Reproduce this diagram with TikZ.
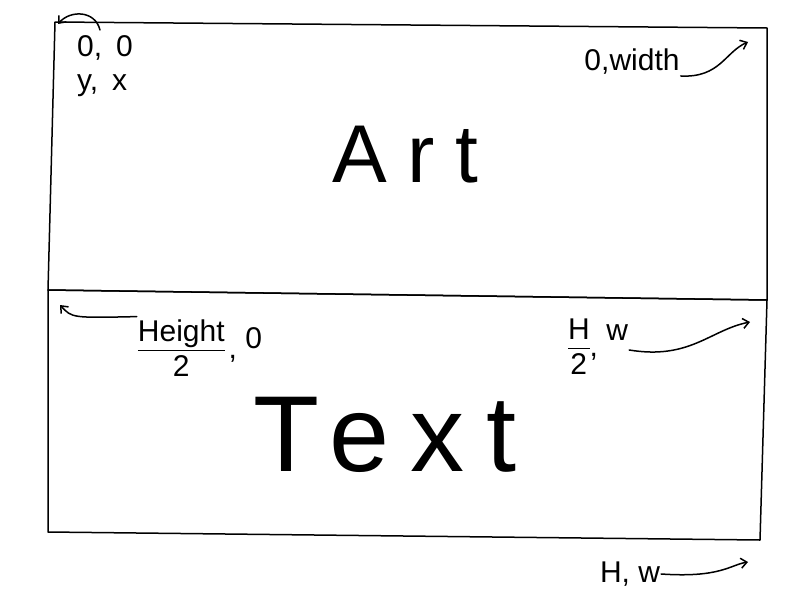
\documentclass[tikz,border=0pt]{standalone}
\usepackage{fontspec}
\setmainfont{Liberation Sans}
\usetikzlibrary{arrows.meta}
\tikzset{
  box/.style={draw=black, line width=1.5pt, line join=round},
  lbl/.style={inner sep=1pt, font=\fontsize{30}{34}\selectfont},
  big/.style={inner sep=0pt, font=\fontsize{82}{82}\selectfont\addfontfeatures{LetterSpace=25}},
  huge/.style={inner sep=0pt, font=\fontsize{108}{108}\selectfont\addfontfeatures{LetterSpace=20}},
  pointer/.style={draw=black, line width=1.5pt, line cap=round, -{Straight Barb[length=6pt,width=10pt]}},
}
\newcommand{\fracbox}[2]{\begin{tabular}{@{}c@{}}#1\\[-2pt]\hline\noalign{\vskip2pt}#2\end{tabular}}
\begin{document}
\begin{tikzpicture}[x=1pt,y=-1pt]
\useasboundingbox (0,0) rectangle (800,600);
% corners
\coordinate (a1) at (55,22);
\coordinate (a2) at (767,28);
\coordinate (a3) at (767,300);
\coordinate (a4) at (48,290);
\coordinate (b3) at (760,540);
\coordinate (b4) at (48,532);
% boxes
\draw[box] (a1) -- (a2) -- (a3) -- (a4) -- cycle;
\draw[box] (a4) -- (a3) -- (b3) -- (b4) -- cycle;
% main texts
\node[big] (art) at (405,155) {Art};
\node[huge] (txt) at (385,435) {Text};
% labels
\node[lbl, align=left] (tl) at (105,66) {0,\hspace{14pt}0\\y,\hspace{14pt}x};
\node[lbl] (tr) at (632,62) {0,width};
\node[lbl] (ml) at (200,352) {\fracbox{Height}{2}\hspace{4pt}, \raisebox{10pt}{0}};
\node[lbl] (mr) at (598,350) {\fracbox{H}{2}, \raisebox{16pt}{w}};
\node[lbl] (br) at (630,574) {H, w};
% pointers
\coordinate (ctl) at (58,24);
\coordinate (ctr) at (748,42);
\coordinate (cml) at (60,305);
\coordinate (cmr) at (750,322);
\coordinate (cbr) at (748,562);
\draw[pointer] (100,30) .. controls (95,10) and (70,10) .. (ctl);
\draw[pointer] (tr.south east) .. controls (720,78) and (725,52) .. (ctr);
\draw[pointer] (ml.north west) .. controls (72,318) .. (cml);
\draw[pointer] (mr.east) .. controls (690,360) and (710,330) .. (cmr);
\draw[pointer] (br.east) .. controls (720,578) and (730,565) .. (cbr);
\end{tikzpicture}
\end{document}
